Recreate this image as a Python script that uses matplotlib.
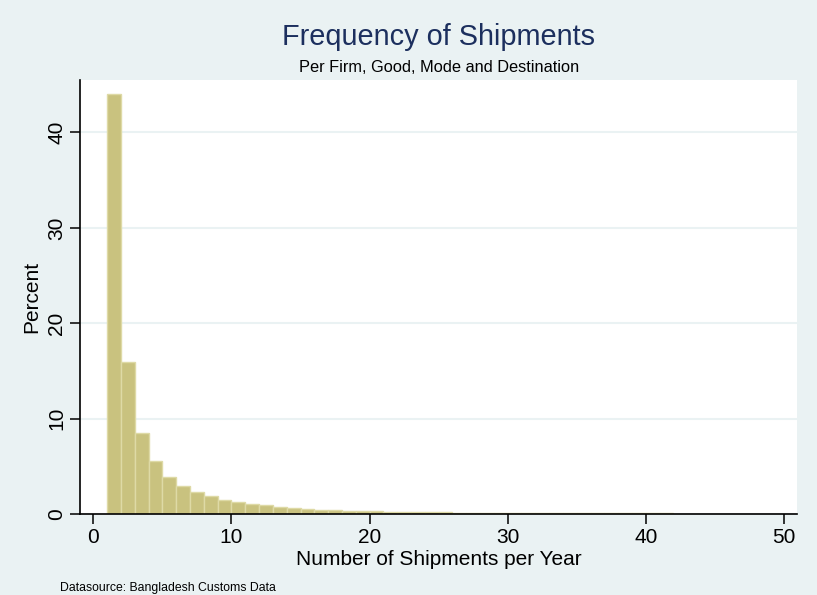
import matplotlib
matplotlib.use("Agg")
import matplotlib.pyplot as plt

# histogram bins: width 1, starting at 1
bin_left = list(range(1, 50))
percent = [44.0, 15.9, 8.45, 5.6, 3.85, 2.9, 2.27, 1.85, 1.52, 1.25,
           1.07, 0.9, 0.76, 0.63, 0.53, 0.45, 0.39, 0.34, 0.3, 0.27,
           0.24, 0.22, 0.2, 0.18, 0.16, 0.15, 0.14, 0.13, 0.12, 0.11,
           0.1, 0.095, 0.09, 0.085, 0.08, 0.075, 0.07, 0.066, 0.062, 0.058,
           0.055, 0.052, 0.05, 0.048, 0.046, 0.044, 0.042, 0.04, 0.038]
xticks = [0, 10, 20, 30, 40, 50]
yticks = [0, 10, 20, 30, 40]

plt.rcParams["font.family"] = ["Liberation Sans", "DejaVu Sans"]

bg = "#eaf2f3"
fig = plt.figure(figsize=(8.17, 5.95), dpi=100, facecolor=bg)
ax = fig.add_axes([0.0979, 0.1361, 0.8776, 0.7294])
ax.set_facecolor("white")

ax.bar(bin_left, percent, width=1.0, align="edge", color="#c9c27f",
       edgecolor="#dedaa6", linewidth=1.0, zorder=2)

ax.set_xlim(-0.97, 50.95)
ax.set_ylim(0, 45.5)
ax.set_xticks(xticks)
ax.set_yticks(yticks)
ax.yaxis.grid(True, color=bg, linewidth=1.5, zorder=0)
ax.set_axisbelow(True)

for side in ["top", "right"]:
    ax.spines[side].set_visible(False)
ax.spines["left"].set_linewidth(1.2)
ax.spines["bottom"].set_linewidth(1.2)

ax.tick_params(axis="both", direction="out", length=7, width=1.1,
               labelsize=15, pad=3)
for lbl in ax.get_yticklabels():
    lbl.set_rotation(90)
    lbl.set_va("center")

ax.set_xlabel("Number of Shipments per Year", fontsize=15, labelpad=2)
ax.set_ylabel("Percent", fontsize=15, labelpad=4)

fig.text(0.537, 0.938, "Frequency of Shipments", fontsize=20.8, color="#1c2f5e",
         ha="center", va="center")
fig.text(0.537, 0.887, "Per Firm, Good, Mode and Destination", fontsize=11.8,
         ha="center", va="center")
fig.text(0.073, 0.012, "Datasource: Bangladesh Customs Data", fontsize=8.8,
         ha="left", va="center")

fig.savefig("out.png", dpi=100, facecolor=bg)
